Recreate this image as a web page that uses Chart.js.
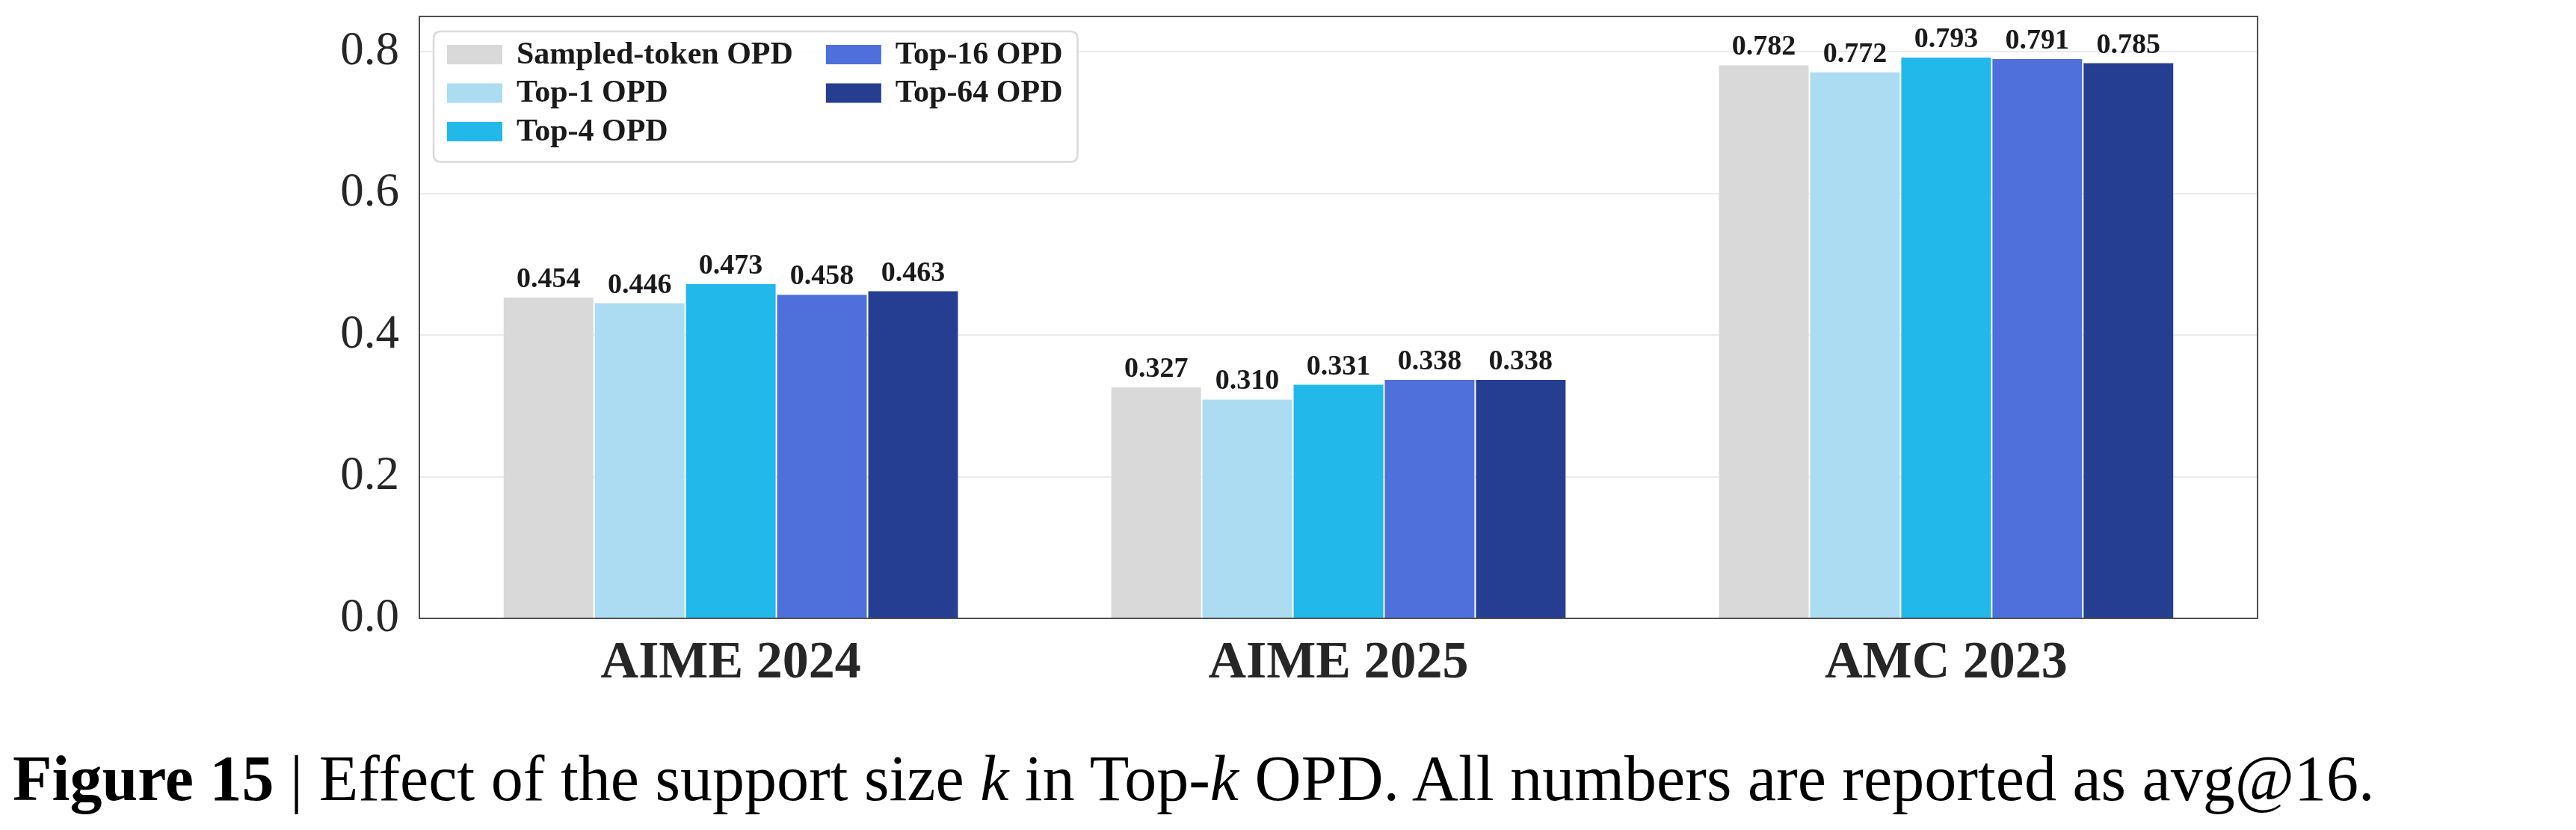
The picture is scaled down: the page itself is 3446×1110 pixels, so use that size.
<!DOCTYPE html>
<html>
<head>
<meta charset="utf-8">
<script src="https://cdn.jsdelivr.net/npm/chart.js@4.4.1/dist/chart.umd.min.js"></script>
<style>
  html, body { margin: 0; padding: 0; background: #ffffff; }
  #wrap { position: relative; width: 3446px; height: 1110px; overflow: hidden; }
  #chart { position: absolute; left: 0; top: 0; }
  #caption { position: absolute; left: 17px; top: 998px; font-family: "Liberation Serif", serif; font-size: 86px; line-height: 1; color: #000; white-space: nowrap; }
  #caption b { font-weight: bold; }
  #caption i { font-style: italic; }
</style>
</head>
<body>
<div id="wrap">
  <canvas id="chart" width="3446" height="1110"></canvas>
  <div id="caption"><b>Figure 15</b> | Effect of the support size <i>k</i> in Top-<i>k</i> OPD. All numbers are reported as avg@16.</div>
</div>
<script>
// ---- data ----
const categories = ['AIME 2024', 'AIME 2025', 'AMC 2023'];
const seriesNames = ['Sampled-token OPD', 'Top-1 OPD', 'Top-4 OPD', 'Top-16 OPD', 'Top-64 OPD'];
const sampledTokenOPD = [0.454, 0.327, 0.782];
const top1OPD = [0.446, 0.310, 0.772];
const top4OPD = [0.473, 0.331, 0.793];
const top16OPD = [0.458, 0.338, 0.791];
const top64OPD = [0.463, 0.338, 0.785];
const yTickValues = [0.0, 0.2, 0.4, 0.6, 0.8];
const seriesColors = ['#d9d9d9', '#abdcf2', '#22b8e9', '#4f70da', '#253e91'];

const seriesValues = [sampledTokenOPD, top1OPD, top4OPD, top16OPD, top64OPD];

const datasets = seriesNames.map((name, s) => ({
  label: name,
  data: seriesValues[s].map((v, i) => ({ x: i, y: v })),
  backgroundColor: seriesColors[s],
  borderColor: 'rgba(255,255,255,0.4)',
  borderWidth: 1,
  borderSkipped: 'bottom',
  categoryPercentage: 0.75,
  barPercentage: 1.0
}));

const SERIF = '"Liberation Serif", "DejaVu Serif", serif';
const W = 3446, H = 1110;
const PLOT_LEFT = 561, PLOT_RIGHT = 3020, PLOT_TOP = 22, PLOT_BOTTOM = 827;

const framePlugin = {
  id: 'frame',
  afterDatasetsDraw(chart) {
    const { ctx, chartArea: a } = chart;
    ctx.save();
    ctx.strokeStyle = '#4f4f4f';
    ctx.lineWidth = 2;
    ctx.strokeRect(a.left, a.top, a.right - a.left, a.bottom - a.top);
    ctx.restore();
  }
};

const valueLabelPlugin = {
  id: 'valueLabels',
  afterDatasetsDraw(chart) {
    const { ctx } = chart;
    ctx.save();
    ctx.font = 'bold 38px ' + SERIF;
    ctx.fillStyle = '#1a1a1a';
    ctx.textAlign = 'center';
    ctx.textBaseline = 'alphabetic';
    chart.data.datasets.forEach((ds, di) => {
      const meta = chart.getDatasetMeta(di);
      meta.data.forEach((el, i) => {
        ctx.fillText(ds.data[i].y.toFixed(3), el.x, el.y - 13);
      });
    });
    ctx.restore();
  }
};

const legendPlugin = {
  id: 'innerLegend',
  afterDraw(chart) {
    const { ctx, chartArea: a } = chart;
    const ds = chart.data.datasets;
    const rows = 3;
    const boxL = a.left + 19, boxT = a.top + 20;
    const padL = 18, padT = 18;
    const patchW = 74, patchH = 26, rowPitch = 51.5, textGap = 19, colGap = 44;
    ctx.save();
    ctx.font = 'bold 42px ' + SERIF;
    const cols = Math.ceil(ds.length / rows);
    const colX = [];
    let x = boxL + padL;
    let lastEnd = x;
    for (let c = 0; c < cols; c++) {
      colX.push(x);
      let maxW = 0;
      for (let r = 0; r < rows; r++) {
        const idx = c * rows + r;
        if (idx < ds.length) maxW = Math.max(maxW, ctx.measureText(ds[idx].label).width);
      }
      lastEnd = x + patchW + textGap + maxW;
      x = lastEnd + colGap;
    }
    const boxR = lastEnd + 20;
    const boxB = boxT + padT + rows * rowPitch + 2;
    const r = 10;
    ctx.beginPath();
    ctx.moveTo(boxL + r, boxT);
    ctx.lineTo(boxR - r, boxT);
    ctx.quadraticCurveTo(boxR, boxT, boxR, boxT + r);
    ctx.lineTo(boxR, boxB - r);
    ctx.quadraticCurveTo(boxR, boxB, boxR - r, boxB);
    ctx.lineTo(boxL + r, boxB);
    ctx.quadraticCurveTo(boxL, boxB, boxL, boxB - r);
    ctx.lineTo(boxL, boxT + r);
    ctx.quadraticCurveTo(boxL, boxT, boxL + r, boxT);
    ctx.closePath();
    ctx.fillStyle = 'rgba(255,255,255,0.85)';
    ctx.fill();
    ctx.strokeStyle = '#dadada';
    ctx.lineWidth = 2.5;
    ctx.stroke();
    ctx.textAlign = 'left';
    ctx.textBaseline = 'middle';
    ds.forEach((d, idx) => {
      const c = Math.floor(idx / rows), rr = idx % rows;
      const px = colX[c], py = boxT + padT + rr * rowPitch;
      ctx.fillStyle = d.backgroundColor;
      ctx.fillRect(px, py, patchW, patchH);
      ctx.fillStyle = '#1a1a1a';
      ctx.fillText(d.label, px + patchW + textGap, py + patchH / 2 + 1);
    });
    ctx.restore();
  }
};

function zeroPad(scale) {
  scale.paddingTop = 0; scale.paddingBottom = 0;
  scale.paddingLeft = 0; scale.paddingRight = 0;
}

new Chart(document.getElementById('chart'), {
  type: 'bar',
  data: { datasets },
  options: {
    responsive: false,
    animation: false,
    devicePixelRatio: 1,
    layout: { padding: { left: 0, top: PLOT_TOP, right: W - PLOT_RIGHT, bottom: 0 } },
    plugins: { legend: { display: false }, tooltip: { enabled: false } },
    scales: {
      x: {
        type: 'linear',
        offset: false,
        min: -0.5125,
        max: 2.5125,
        grid: { display: false, drawTicks: false },
        border: { display: true, color: '#4f4f4f', width: 2 },
        afterBuildTicks(scale) { scale.ticks = categories.map((c, i) => ({ value: i })); },
        afterFit(scale) { scale.height = H - PLOT_BOTTOM; zeroPad(scale); },
        ticks: {
          autoSkip: false,
          maxRotation: 0,
          padding: 19,
          color: '#262626',
          font: { family: SERIF, size: 70, weight: 'bold' },
          callback: (v) => categories[v]
        }
      },
      y: {
        min: 0,
        max: 0.85,
        grid: { color: '#ebebeb', lineWidth: 2, drawTicks: false },
        border: { display: true, color: '#4f4f4f', width: 2 },
        afterBuildTicks(scale) { scale.ticks = yTickValues.map(v => ({ value: v })); },
        afterFit(scale) { scale.width = PLOT_LEFT; zeroPad(scale); },
        ticks: {
          padding: 27,
          color: '#262626',
          font: { family: SERIF, size: 63 },
          callback: (v) => v.toFixed(1)
        }
      }
    }
  },
  plugins: [framePlugin, valueLabelPlugin, legendPlugin]
});
</script>
</body>
</html>
